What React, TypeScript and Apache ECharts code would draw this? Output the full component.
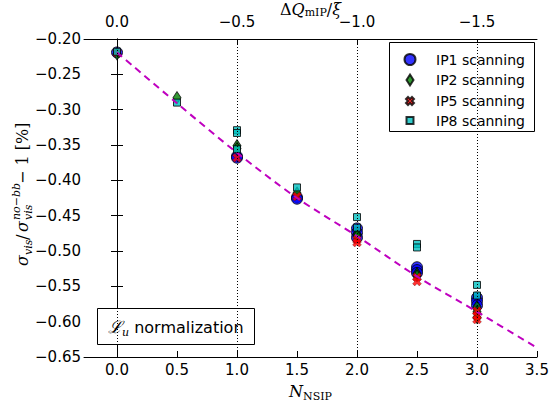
import React, { useEffect, useRef } from 'react';
import * as echarts from 'echarts';

// N_NSIP positions and measured values for each scan
const ip1X = [0, 1, 1, 1.5, 1.5, 2, 2, 2, 2.5, 2.5, 2.5, 3, 3, 3];
const ip1Y = [-0.219, -0.366, -0.368, -0.424, -0.426, -0.468, -0.474, -0.481, -0.523, -0.527, -0.531, -0.566, -0.571, -0.577];

const ip2X = [0, 0.5, 1, 1, 1.5, 2, 2, 2.5, 2.5, 3, 3, 3];
const ip2Y = [-0.221, -0.283, -0.351, -0.355, -0.418, -0.476, -0.479, -0.532, -0.535, -0.579, -0.586, -0.594];

const ip5X = [0, 1, 1.5, 2, 2, 2.5, 2.5, 3, 3, 3];
const ip5Y = [-0.219, -0.368, -0.423, -0.484, -0.488, -0.537, -0.543, -0.585, -0.592, -0.597];

const ip8X = [0, 0.5, 1, 1, 1, 1.5, 2, 2, 2.5, 2.5, 3, 3];
const ip8Y = [-0.218, -0.29, -0.329, -0.333, -0.356, -0.41, -0.452, -0.467, -0.49, -0.495, -0.548, -0.563];

// dashed model curve
const curveX = [0, 0.5, 1, 1.5, 2, 2.5, 3, 3.5];
const curveY = [-0.219, -0.291, -0.361, -0.425, -0.479, -0.536, -0.586, -0.637];

const bottomTicks = [0, 0.5, 1, 1.5, 2, 2.5, 3, 3.5];
const topTicks = [0, 1, 2, 3];
const gridLinesX = [0, 1, 2, 3];

const seriesNames = ['IP1 scanning', 'IP2 scanning', 'IP5 scanning', 'IP8 scanning'];

const X_PATH = 'path://M0,1.5L1.5,0L3,1.5L4.5,0L6,1.5L4.5,3L6,4.5L4.5,6L3,4.5L1.5,6L0,4.5L1.5,3Z';
const DIAMOND_PATH = 'path://M3.5,0L7,5.5L3.5,11L0,5.5Z';

const zip = (xs: number[], ys: number[]) => xs.map((x, i) => [x, ys[i]]);

const minusFmt = (v: number, d: number) => {
  const s = Math.abs(v).toFixed(d);
  return v < -1e-9 ? '\u2212' + s : s;
};

const tickFont = { fontFamily: 'DejaVu Sans', fontSize: 15, color: '#000' };
const axisLineStyle = { lineStyle: { color: '#000', width: 1 } };

export default function App() {
  const ref = useRef<HTMLDivElement>(null);
  useEffect(() => {
    if (!ref.current) return;
    const chart = echarts.init(ref.current, null, { renderer: 'svg' });
    const mathRich = {
      r: { fontFamily: 'DejaVu Serif', fontSize: 16, color: '#000', lineHeight: 22, verticalAlign: 'middle' },
      i: { fontFamily: 'DejaVu Serif', fontStyle: 'italic', fontSize: 16, color: '#000', lineHeight: 22, verticalAlign: 'middle' },
      s: { fontFamily: 'DejaVu Serif', fontSize: 11, color: '#000', lineHeight: 12, verticalAlign: 'bottom' },
    };
    const topRich = {
      r: { fontFamily: 'DejaVu Serif', fontSize: 16, color: '#000', lineHeight: 18, verticalAlign: 'middle' },
      i: { fontFamily: 'DejaVu Serif', fontStyle: 'italic', fontSize: 16, color: '#000', lineHeight: 18, verticalAlign: 'middle' },
      s: { fontFamily: 'DejaVu Serif', fontSize: 11, color: '#000', lineHeight: 9, verticalAlign: 'bottom' },
    };
    const legendCommon = {
      orient: 'horizontal',
      padding: 0,
      itemGap: 0,
      selectedMode: false,
      z: 10,
      textStyle: { fontFamily: 'DejaVu Sans', fontSize: 14, color: '#000' },
    };
    const legendRows = [
      { name: seriesNames[0], icon: 'circle', w: 11, h: 11, cy: 58 },
      { name: seriesNames[1], icon: DIAMOND_PATH, w: 7, h: 11, cy: 78.5 },
      { name: seriesNames[2], icon: X_PATH, w: 8, h: 8, cy: 98 },
      { name: seriesNames[3], icon: 'rect', w: 7, h: 7, cy: 117 },
    ];
    const iconCx = 409;
    const textX = 435;
    const legends = legendRows.map((r) => ({
      ...legendCommon,
      data: [{ name: r.name, icon: r.icon }],
      itemWidth: r.w,
      itemHeight: r.h,
      left: iconCx - r.w / 2,
      top: r.cy - r.h / 2,
      textStyle: { ...legendCommon.textStyle, padding: [0, 0, 0, textX - (iconCx - r.w / 2 + r.w + 5)] },
    }));

    const scatterBase = {
      type: 'scatter',
      z: 2,
      xAxisIndex: 0,
      yAxisIndex: 0,
    };

    const yLab = (text: string, x: number, y: number, font: string) => ({
      type: 'text',
      x,
      y,
      style: { text, font, fill: '#000', textAlign: 'left', textVerticalAlign: 'bottom' },
    });
    const mainF = 'italic 16px "DejaVu Serif"';
    const romF = '16px "DejaVu Serif"';
    const smallF = 'italic 11px "DejaVu Serif"';

    chart.setOption({
      animation: false,
      backgroundColor: '#fff',
      grid: { left: 84, right: 13, top: 39, bottom: 46, containLabel: false, outerBoundsMode: 'none' },
      legend: legends,
      xAxis: [
        {
          type: 'value',
          min: -0.275,
          max: 3.5,
          position: 'bottom',
          name: '{i|N}{s|NSIP}',
          nameLocation: 'middle',
          nameGap: 23,
          nameTextStyle: { rich: mathRich },
          axisLine: axisLineStyle,
          axisTick: { inside: true, length: 6, lineStyle: { color: '#000' }, customValues: bottomTicks },
          axisLabel: { ...tickFont, margin: 5, customValues: bottomTicks, formatter: (v: number) => minusFmt(v, 1) },
          splitLine: { show: false },
        },
        {
          type: 'value',
          min: -0.275,
          max: 3.5,
          position: 'top',
          name: '{r|\u0394}{i|Q}{s|mIP}{r|/}{i|\u03be}',
          nameLocation: 'middle',
          nameGap: 21,
          nameMoveOverlap: false,
          nameTextStyle: { rich: topRich },
          axisLine: axisLineStyle,
          axisTick: { inside: true, length: 6, lineStyle: { color: '#000' }, customValues: topTicks },
          axisLabel: { ...tickFont, margin: 10, customValues: topTicks, formatter: (v: number) => minusFmt(-v / 2, 1) },
          splitLine: { show: false },
        },
      ],
      yAxis: [
        {
          type: 'value',
          min: -0.65,
          max: -0.2,
          interval: 0.05,
          position: 'left',
          axisLine: { show: true, ...axisLineStyle },
          axisTick: { inside: true, length: 6, lineStyle: { color: '#000' } },
          axisLabel: { ...tickFont, margin: 3, formatter: (v: number) => minusFmt(v, 2) },
          splitLine: { show: false },
        },
        {
          type: 'value',
          min: -0.65,
          max: -0.2,
          interval: 0.05,
          position: 'right',
          axisLine: { show: true, ...axisLineStyle },
          axisTick: { inside: true, length: 6, lineStyle: { color: '#000' } },
          axisLabel: { show: false },
          splitLine: { show: false },
        },
      ],
      series: [
        {
          type: 'line',
          name: 'grid',
          z: 1,
          data: zip(curveX, curveY),
          showSymbol: false,
          silent: true,
          lineStyle: { opacity: 0, width: 0 },
          markLine: {
            silent: true,
            symbol: ['none', 'none'],
            label: { show: false },
            lineStyle: { color: '#000', type: [1, 2], width: 1 },
            data: gridLinesX.map((x) => ({ xAxis: x })),
          },
        },
        {
          ...scatterBase,
          name: seriesNames[0],
          data: zip(ip1X, ip1Y),
          symbol: 'circle',
          symbolSize: 11,
          itemStyle: { color: '#0000ff', borderColor: '#000', borderWidth: 1 },
        },
        {
          ...scatterBase,
          name: seriesNames[1],
          data: zip(ip2X, ip2Y),
          symbol: 'diamond',
          symbolSize: [8, 12],
          itemStyle: { color: '#008000', borderColor: '#000', borderWidth: 1 },
        },
        {
          ...scatterBase,
          name: seriesNames[2],
          data: zip(ip5X, ip5Y),
          symbol: X_PATH,
          symbolSize: 9,
          itemStyle: { color: '#ff0000', borderColor: '#000', borderWidth: 0.3 },
        },
        {
          ...scatterBase,
          name: seriesNames[3],
          data: zip(ip8X, ip8Y),
          symbol: 'rect',
          symbolSize: 7,
          itemStyle: { color: '#00bfbf', borderColor: '#000', borderWidth: 1 },
        },
        {
          type: 'line',
          name: 'model',
          z: 3,
          data: zip(curveX, curveY),
          smooth: 0.3,
          showSymbol: false,
          silent: true,
          lineStyle: { color: '#bf00bf', width: 2, type: [7, 5] },
        },
      ],
      graphic: [
        {
          type: 'rect',
          z: 5,
          shape: { x: 389.5, y: 42.5, width: 145, height: 89 },
          style: { fill: '#fff', stroke: '#000', lineWidth: 1 },
        },
        {
          type: 'rect',
          z: 5,
          shape: { x: 97.5, y: 308.5, width: 157, height: 36 },
          style: { fill: '#fff', stroke: '#000', lineWidth: 1 },
        },
        {
          type: 'text',
          z: 6,
          x: 108,
          y: 327,
          style: {
            text: '{L|\u2112}{u|u}{n| normalization}',
            textVerticalAlign: 'middle',
            rich: {
              L: { fontFamily: 'DejaVu Serif', fontStyle: 'italic', fontSize: 17, lineHeight: 22, verticalAlign: 'middle', fill: '#000' },
              u: { fontFamily: 'DejaVu Serif', fontStyle: 'italic', fontSize: 11, lineHeight: 12, verticalAlign: 'bottom', fill: '#000' },
              n: { fontFamily: 'DejaVu Sans', fontSize: 16, lineHeight: 22, verticalAlign: 'middle', fill: '#000' },
            },
          },
        },
        {
          type: 'group',
          x: 27,
          y: 266,
          rotation: Math.PI / 2,
          z: 6,
          children: [
            yLab('\u03c3', 0, 3, mainF),
            yLab('vis', 11, 7, smallF),
            yLab('/', 26, 3, romF),
            yLab('\u03c3', 34, 3, mainF),
            yLab('no\u2212bb', 46, -5, smallF),
            yLab('vis', 46, 7, smallF),
            yLab('\u2212 1 [%]', 82, 3, romF),
          ],
        },
      ],
    });
    return () => chart.dispose();
  }, []);
  return <div ref={ref} style={{ position: 'absolute', left: 0, top: 0, width: 550, height: 403 }} />;
}
